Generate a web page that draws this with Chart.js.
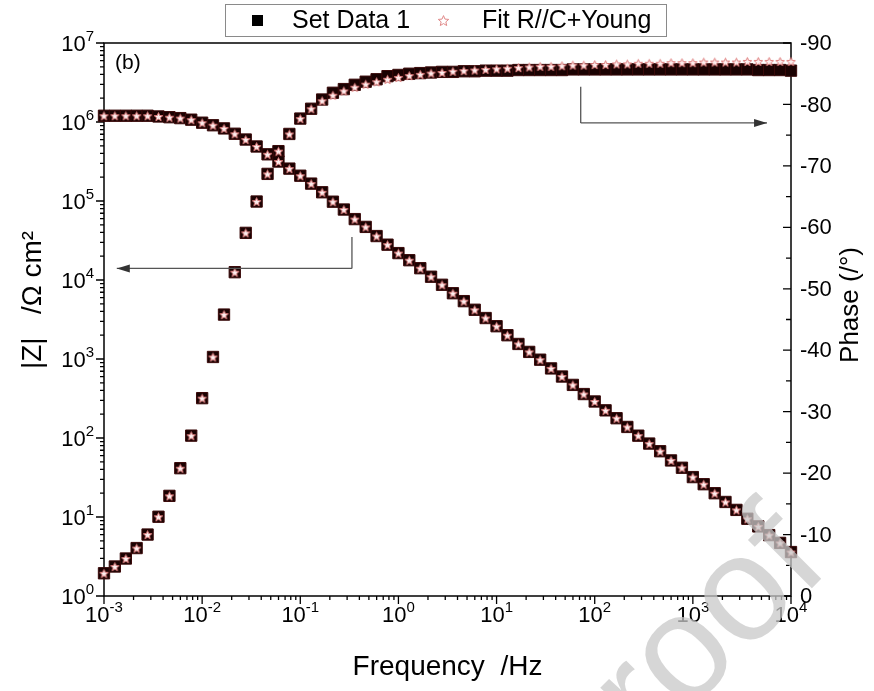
<!DOCTYPE html>
<html>
<head>
<meta charset="utf-8">
<script src="https://cdn.jsdelivr.net/npm/chart.js@4.4.0/dist/chart.umd.min.js"></script>
<style>
  html, body { margin: 0; padding: 0; background: #fff; }
</style>
</head>
<body>
<canvas id="bode" width="874" height="691"></canvas>
<script>
// frequencies (Hz), 9 points per decade
const freqs = [0.001, 0.00129, 0.00167, 0.00215, 0.00278, 0.00359, 0.00464, 0.00599, 0.00774,
  0.01, 0.0129, 0.0167, 0.0215, 0.0278, 0.0359, 0.0464, 0.0599, 0.0774,
  0.1, 0.129, 0.167, 0.215, 0.278, 0.359, 0.464, 0.599, 0.774,
  1, 1.29, 1.67, 2.15, 2.78, 3.59, 4.64, 5.99, 7.74,
  10, 12.9, 16.7, 21.5, 27.8, 35.9, 46.4, 59.9, 77.4,
  100, 129, 167, 215, 278, 359, 464, 599, 774,
  1000, 1290, 1670, 2150, 2780, 3590, 4640, 5990, 7740, 10000];

// |Z| (ohm cm2), measured
const zMod = [1.2e6, 1.2e6, 1.2e6, 1.2e6, 1.2e6, 1.175e6, 1.15e6, 1.12e6, 1.07e6,
  9.8e5, 9.1e5, 8.3e5, 7.1e5, 6.0e5, 4.9e5, 3.9e5, 3.16e5, 2.57e5,
  2.09e5, 1.66e5, 1.29e5, 9.8e4, 7.8e4, 5.9e4, 4.7e4, 3.6e4, 2.8e4,
  2.19e4, 1.78e4, 1.41e4, 1.10e4, 8.7e3, 6.8e3, 5.4e3, 4.2e3, 3.3e3,
  2.6e3, 2.0e3, 1.55e3, 1.23e3, 980, 760, 600, 470, 360,
  290, 224, 178, 138, 107, 85, 68, 52, 42,
  32, 26, 20, 15.5, 12.3, 9.5, 7.6, 5.9, 4.7, 3.6];

// phase (deg), measured
const phase = [-3.7, -4.8, -6.1, -7.8, -10.0, -12.9, -16.3, -20.8, -26.1,
  -32.2, -38.9, -45.8, -52.7, -59.1, -64.2, -68.7, -72.4, -75.2,
  -77.7, -79.3, -80.8, -81.9, -82.5, -83.2, -83.7, -84.1, -84.6,
  -84.8, -85.0, -85.1, -85.2, -85.3, -85.3, -85.4, -85.4, -85.5,
  -85.5, -85.5, -85.6, -85.6, -85.6, -85.6, -85.6, -85.7, -85.7,
  -85.7, -85.7, -85.7, -85.7, -85.7, -85.7, -85.7, -85.7, -85.7,
  -85.7, -85.7, -85.7, -85.7, -85.7, -85.7, -85.6, -85.6, -85.6, -85.5];

// fit R//C+Young
const fitZ = zMod.slice();
const fitPhase = [-3.7, -4.8, -6.1, -7.8, -10.0, -12.9, -16.3, -20.8, -26.1,
  -32.2, -38.9, -45.8, -52.7, -59.1, -64.2, -68.7, -72.4, -75.2,
  -77.7, -79.3, -80.6, -81.5, -82.2, -82.8, -83.3, -83.7, -84.1,
  -84.4, -84.7, -84.9, -85.1, -85.2, -85.4, -85.5, -85.6, -85.7,
  -85.8, -85.9, -86.0, -86.1, -86.2, -86.2, -86.3, -86.4, -86.4,
  -86.5, -86.5, -86.6, -86.6, -86.7, -86.7, -86.7, -86.8, -86.8,
  -86.8, -86.9, -86.9, -86.9, -86.9, -87.0, -87.0, -87.0, -87.0, -87.0];

const xTickExps = [-3, -2, -1, 0, 1, 2, 3, 4];
const yTickExps = [0, 1, 2, 3, 4, 5, 6, 7];
const minorMult = [2, 3, 4, 5, 6, 7, 8, 9];
const phaseTicks = [0, -10, -20, -30, -40, -50, -60, -70, -80, -90];
const phaseMinor = [-5, -15, -25, -35, -45, -55, -65, -75, -85];

const FONT = '"Liberation Sans", Arial, sans-serif';
const TICK_FS = 22, SUP_FS = 15, TITLE_FS = 28, LEG_FS = 25;

function makeStar(size, fill, stroke, lw) {
  const c = document.createElement('canvas');
  c.width = c.height = size;
  const g = c.getContext('2d');
  const cx = size / 2, cy = size / 2 + 0.6, R = size / 2 - lw, r = R * 0.45;
  g.beginPath();
  for (let i = 0; i < 10; i++) {
    const a = -Math.PI / 2 + i * Math.PI / 5, rad = i % 2 ? r : R;
    g.lineTo(cx + rad * Math.cos(a), cy + rad * Math.sin(a));
  }
  g.closePath();
  g.fillStyle = fill; g.fill();
  g.lineWidth = lw; g.strokeStyle = stroke; g.stroke();
  return c;
}
const starPt = makeStar(11, '#fff0f0', '#dd7a7a', 1);
const starLeg = makeStar(13, '#ffffff', '#e08a8a', 1);

function pts(ys) { return freqs.map((f, i) => ({ x: f, y: ys[i] })); }

function drawPow(ctx, exp, x, y, align) {
  const base = '10', sup = String(exp);
  ctx.font = TICK_FS + 'px ' + FONT;
  const wb = ctx.measureText(base).width;
  ctx.font = SUP_FS + 'px ' + FONT;
  const ws = ctx.measureText(sup).width;
  const tot = wb + ws;
  const left = align === 'center' ? x - tot / 2 : align === 'right' ? x - tot : x;
  ctx.textAlign = 'left'; ctx.textBaseline = 'alphabetic';
  ctx.font = TICK_FS + 'px ' + FONT;
  ctx.fillText(base, left, y);
  ctx.font = SUP_FS + 'px ' + FONT;
  ctx.fillText(sup, left + wb, y - TICK_FS * 0.45);
}

function arrow(ctx, x1, y1, x2, y2) {
  ctx.beginPath(); ctx.moveTo(x1, y1); ctx.lineTo(x2, y2); ctx.stroke();
  const ang = Math.atan2(y2 - y1, x2 - x1), L = 13, W = 4;
  ctx.beginPath();
  ctx.moveTo(x2, y2);
  ctx.lineTo(x2 - L * Math.cos(ang) + W * Math.sin(ang), y2 - L * Math.sin(ang) - W * Math.cos(ang));
  ctx.lineTo(x2 - L * Math.cos(ang) - W * Math.sin(ang), y2 - L * Math.sin(ang) + W * Math.cos(ang));
  ctx.closePath(); ctx.fill();
}

const frame = {
  id: 'frame',
  beforeDatasetsDraw(chart) {
    const { ctx, chartArea: a, scales } = chart;
    ctx.save();
    ctx.strokeStyle = '#000';
    ctx.lineWidth = 1.5;
    ctx.strokeRect(a.left, a.top, a.right - a.left, a.bottom - a.top);
    ctx.lineWidth = 1.3;
    ctx.beginPath();
    xTickExps.forEach(e => {
      const px = scales.x.getPixelForValue(Math.pow(10, e));
      ctx.moveTo(px, a.bottom); ctx.lineTo(px, a.bottom + 8);
      if (e < 4) minorMult.forEach(m => {
        const p = scales.x.getPixelForValue(m * Math.pow(10, e));
        ctx.moveTo(p, a.bottom); ctx.lineTo(p, a.bottom + 4);
      });
    });
    yTickExps.forEach(e => {
      const py = scales.y.getPixelForValue(Math.pow(10, e));
      ctx.moveTo(a.left, py); ctx.lineTo(a.left - 8, py);
      if (e < 7) minorMult.forEach(m => {
        const p = scales.y.getPixelForValue(m * Math.pow(10, e));
        ctx.moveTo(a.left, p); ctx.lineTo(a.left - 4, p);
      });
    });
    phaseTicks.forEach(v => {
      const py = scales.y1.getPixelForValue(v);
      ctx.moveTo(a.right, py); ctx.lineTo(a.right - 8, py);
    });
    phaseMinor.forEach(v => {
      const py = scales.y1.getPixelForValue(v);
      ctx.moveTo(a.right, py); ctx.lineTo(a.right - 5, py);
    });
    ctx.stroke();
    ctx.restore();
  },
  afterDraw(chart) {
    const { ctx, chartArea: a, scales } = chart;
    ctx.save();
    ctx.fillStyle = '#000';
    // tick labels
    xTickExps.forEach(e => drawPow(ctx, e, scales.x.getPixelForValue(Math.pow(10, e)), a.bottom + 26, 'center'));
    yTickExps.forEach(e => drawPow(ctx, e, a.left - 10, scales.y.getPixelForValue(Math.pow(10, e)) + 8, 'right'));
    ctx.font = TICK_FS + 'px ' + FONT;
    ctx.textAlign = 'left'; ctx.textBaseline = 'middle';
    phaseTicks.forEach(v => ctx.fillText(String(v), a.right + 9, scales.y1.getPixelForValue(v) + 1));

    // axis titles
    ctx.font = TITLE_FS + 'px ' + FONT;
    ctx.textAlign = 'center'; ctx.textBaseline = 'alphabetic';
    ctx.fillText('Frequency  /Hz', (a.left + a.right) / 2, 675);
    ctx.save();
    ctx.translate(33, 300);
    ctx.rotate(-Math.PI / 2);
    ctx.textBaseline = 'middle';
    ctx.fillText('|Z|   /\u03A9 cm\u00B2', 0, 0);
    ctx.restore();
    ctx.font = '26px ' + FONT;
    ctx.save();
    ctx.translate(851, 305);
    ctx.rotate(-Math.PI / 2);
    ctx.textBaseline = 'middle';
    ctx.fillText('Phase (/\u00B0)', 0, 0);
    ctx.restore();

    // panel tag
    ctx.font = '21px ' + FONT;
    ctx.textAlign = 'left'; ctx.textBaseline = 'middle';
    ctx.fillText('(b)', a.left + 11, a.top + 20);

    // arrows
    ctx.strokeStyle = '#555'; ctx.fillStyle = '#333'; ctx.lineWidth = 1.3;
    const lx = scales.x.getPixelForValue(0.336);
    const ly1 = scales.y.getPixelForValue(3.5e4), ly2 = scales.y.getPixelForValue(1.4e4);
    ctx.beginPath(); ctx.moveTo(lx, ly1); ctx.lineTo(lx, ly2); ctx.stroke();
    arrow(ctx, lx, ly2, scales.x.getPixelForValue(0.00135), ly2);
    const rx = scales.x.getPixelForValue(72);
    const ry1 = scales.y1.getPixelForValue(-82.9), ry2 = scales.y1.getPixelForValue(-77);
    ctx.beginPath(); ctx.moveTo(rx, ry1); ctx.lineTo(rx, ry2); ctx.stroke();
    arrow(ctx, rx, ry2, scales.x.getPixelForValue(5700), ry2);

    // legend
    ctx.fillStyle = '#fff';
    ctx.fillRect(225, 4, 441, 32);
    ctx.strokeStyle = '#8a8a8a'; ctx.lineWidth = 1;
    ctx.strokeRect(225.5, 4.5, 441, 32);
    ctx.fillStyle = '#000';
    ctx.fillRect(252, 15, 11, 11);
    ctx.font = LEG_FS + 'px ' + FONT;
    ctx.textBaseline = 'middle';
    ctx.fillText('Set Data 1', 292, 21);
    ctx.drawImage(starLeg, 437, 14);
    ctx.fillText('Fit R//C+Young', 482, 21);

    // watermark
    ctx.save();
    ctx.translate(832, 568);
    ctx.rotate(-45 * Math.PI / 180);
    ctx.font = '150px ' + FONT;
    ctx.textAlign = 'right'; ctx.textBaseline = 'alphabetic';
    ctx.fillStyle = 'rgba(200,200,200,0.75)';
    ctx.fillText('Journal Pre-proof', 0, 0);
    ctx.restore();
    ctx.restore();
  }
};

const hidden = { ticks: { display: false }, grid: { display: false }, border: { display: false } };

new Chart(document.getElementById('bode'), {
  type: 'scatter',
  data: {
    datasets: [
      { label: 'Set Data 1', data: pts(zMod), yAxisID: 'y', pointStyle: 'rect', pointRadius: 8,
        backgroundColor: '#1a0202', borderColor: '#3b0a0a', borderWidth: 1, order: 2, clip: false },
      { label: 'Set Data 1 phase', data: pts(phase), yAxisID: 'y1', pointStyle: 'rect', pointRadius: 8,
        backgroundColor: '#1a0202', borderColor: '#3b0a0a', borderWidth: 1, order: 2, clip: false },
      { label: 'Fit R//C+Young', data: pts(fitZ), yAxisID: 'y', pointStyle: starPt, order: 1, clip: false },
      { label: 'Fit phase', data: pts(fitPhase), yAxisID: 'y1', pointStyle: starPt, order: 1, clip: false }
    ]
  },
  options: {
    responsive: false,
    animation: false,
    events: [],
    layout: { padding: { top: 43, left: 0, right: 0, bottom: 0 } },
    plugins: { legend: { display: false }, tooltip: { enabled: false } },
    scales: {
      x: { type: 'logarithmic', position: 'bottom', min: 1e-3, max: 1e4, ...hidden,
        afterFit(s) { s.height = 95; } },
      y: { type: 'logarithmic', position: 'left', min: 1, max: 1e7, ...hidden,
        afterFit(s) { s.width = 104; } },
      y1: { type: 'linear', position: 'right', min: -90, max: 0, reverse: true, ...hidden,
        afterFit(s) { s.width = 83; } }
    }
  },
  plugins: [frame]
});
</script>
</body>
</html>
